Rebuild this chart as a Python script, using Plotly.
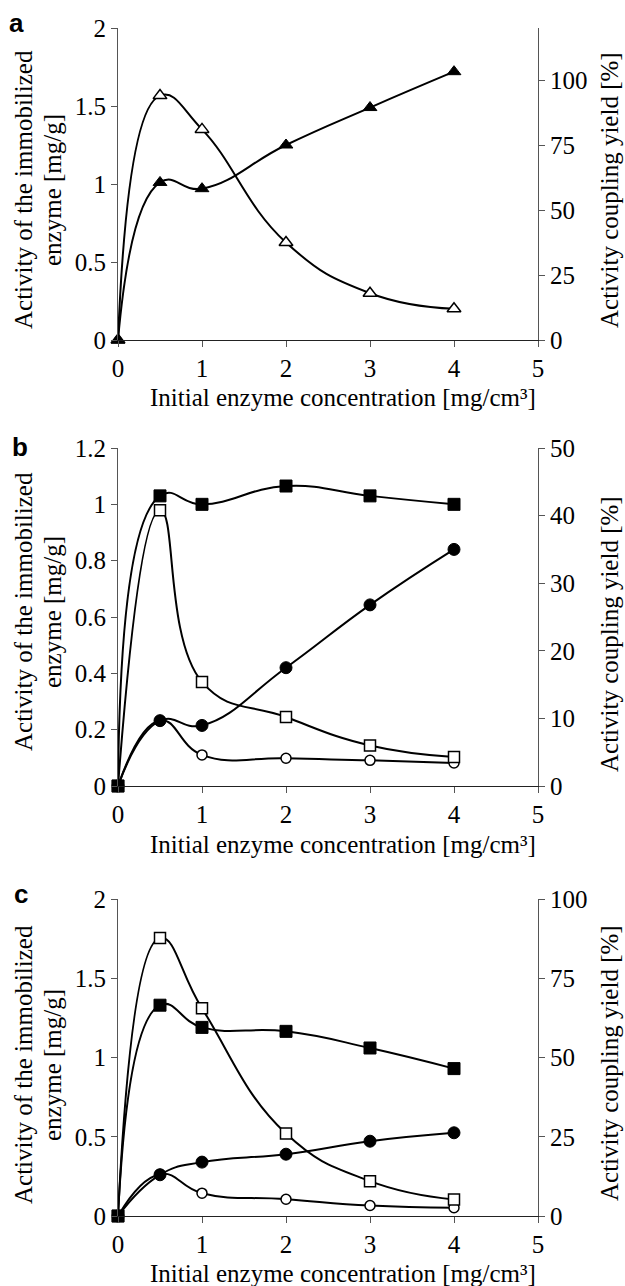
import plotly.graph_objects as go

# ---------------- data ----------------
conc = [0, 0.5, 1, 2, 3, 4]

# panel a
a_activity = [0, 1.01, 0.97, 1.25, 1.49, 1.72]        # filled triangles, left axis [mg/g]
a_yield = [0, 94, 81, 37.5, 18, 12]                    # open triangles, right axis [%]

# panel b
b_act_sq = [0, 1.03, 1.0, 1.065, 1.03, 1.0]            # filled squares, left
b_act_ci = [0, 0.232, 0.215, 0.42, 0.643, 0.84]        # filled circles, left
b_yld_sq = [0, 40.8, 15.4, 10.2, 6.0, 4.3]             # open squares, right
b_yld_ci = [0, 9.7, 4.6, 4.1, 3.8, 3.4]                # open circles, right

# panel c
c_act_sq = [0, 1.33, 1.19, 1.165, 1.06, 0.93]
c_act_ci = [0, 0.26, 0.34, 0.39, 0.472, 0.525]
c_yld_sq = [0, 87.7, 65.5, 26, 11, 5.2]
c_yld_ci = [0, 13.2, 7.2, 5.3, 3.3, 2.6]

x_ticks = [0, 1, 2, 3, 4, 5]
a_left_ticks = [0, 0.5, 1, 1.5, 2]
a_left_text = ["0", "0.5", "1", "1.5", "2"]
a_right_ticks = [0, 25, 50, 75, 100]
b_left_ticks = [0, 0.2, 0.4, 0.6, 0.8, 1.0, 1.2]
b_left_text = ["0", "0.2", "0.4", "0.6", "0.8", "1", "1.2"]
b_right_ticks = [0, 10, 20, 30, 40, 50]
c_left_ticks = [0, 0.5, 1, 1.5, 2]
c_left_text = ["0", "0.5", "1", "1.5", "2"]
c_right_ticks = [0, 25, 50, 75, 100]

x_title = "Initial enzyme concentration [mg/cm³]"
left_title_1 = "Activity of the immobilized"
left_title_2 = "enzyme [mg/g]"
right_title = "Activity coupling yield [%]"
panel_labels = ["a", "b", "c"]

# ---------------- geometry (pixels) ----------------
W, H = 625, 1286
L, R, T, B = 118, 538, 28, 1216
PW, PH = R - L, B - T


def px_x(px):
    return (px - L) / PW


def px_y(py):
    return (B - py) / PH


panels = [  # (top px, bottom px)
    (28, 340),
    (448, 786),
    (899, 1216),
]

SERIF = "Liberation Serif"
FS = 25

fig = go.Figure()


def add(x, y, xa, ya, symbol, size, filled):
    fig.add_trace(go.Scatter(
        x=x, y=y, xaxis=xa, yaxis=ya, mode="lines+markers",
        line=dict(color="black", width=2, shape="spline", smoothing=1.3),
        marker=dict(symbol=symbol, size=size,
                    color="black" if filled else "white",
                    line=dict(color="black", width=1 if filled else 1.5)),
        cliponaxis=False, showlegend=False, hoverinfo="skip"))


# panel a: base y = right axis (y), overlay left (y2)
add(conc, a_yield, "x", "y", "triangle-up", 12, False)
add(conc, a_activity, "x", "y2", "triangle-up", 12, True)
# panel b: y3 right base, y4 left overlay
add(conc, b_yld_ci, "x2", "y3", "circle", 10, False)
add(conc, b_yld_sq, "x2", "y3", "square", 11, False)
add(conc, b_act_ci, "x2", "y4", "circle", 12, True)
add(conc, b_act_sq, "x2", "y4", "square", 12, True)
# panel c: y5 right base, y6 left overlay
add(conc, c_yld_ci, "x3", "y5", "circle", 10, False)
add(conc, c_yld_sq, "x3", "y5", "square", 11, False)
add(conc, c_act_ci, "x3", "y6", "circle", 12, True)
add(conc, c_act_sq, "x3", "y6", "square", 12, True)

axis_common = dict(showline=True, linecolor="#555", linewidth=1, ticks="outside",
                   ticklen=6, tickcolor="#555", tickwidth=1, showgrid=False,
                   zeroline=False, tickfont=dict(family=SERIF, size=FS, color="black"))

layout = dict(
    width=W, height=H, paper_bgcolor="white", plot_bgcolor="white",
    margin=dict(l=L, r=W - R, t=T, b=H - B, pad=0),
    showlegend=False,
)

right_specs = [((0, 120), a_right_ticks), ((0, 50), b_right_ticks), ((0, 100), c_right_ticks)]
left_specs = [((0, 2), a_left_ticks, a_left_text), ((0, 1.2), b_left_ticks, b_left_text),
              ((0, 2), c_left_ticks, c_left_text)]

for i, (top, bot) in enumerate(panels):
    dom = [px_y(bot), px_y(top)]
    xname = "xaxis" if i == 0 else f"xaxis{i + 1}"
    base_idx = 2 * i + 1
    over_idx = 2 * i + 2
    base_name = "yaxis" if base_idx == 1 else f"yaxis{base_idx}"
    over_name = f"yaxis{over_idx}"
    base_ref = "y" if base_idx == 1 else f"y{base_idx}"
    xref = "x" if i == 0 else f"x{i + 1}"
    layout[xname] = dict(axis_common, domain=[0, 1], range=[0, 5], tickvals=x_ticks,
                         anchor=base_ref, linecolor="#222", linewidth=1.3)
    layout[base_name] = dict(axis_common, domain=dom, range=list(right_specs[i][0]),
                             tickvals=right_specs[i][1], side="right", anchor=xref)
    layout[over_name] = dict(axis_common, range=list(left_specs[i][0]),
                             tickvals=left_specs[i][1], ticktext=left_specs[i][2],
                             side="left", overlaying=base_ref, anchor=xref)

fig.update_layout(**layout)

# annotations
left_centers = [190, 612, 1065]
right_centers = [190, 634, 1063]
xtitle_centers = [398, 844, 1273]
letter_pos = [(16, 23), (20, 447), (21, 894)]
ann = []
for i in range(3):
    ann.append(dict(x=px_x(23), y=px_y(left_centers[i]), xref="paper", yref="paper",
                    text=left_title_1, textangle=-90, showarrow=False,
                    xanchor="center", yanchor="middle",
                    font=dict(family=SERIF, size=FS, color="black")))
    ann.append(dict(x=px_x(52), y=px_y(left_centers[i]), xref="paper", yref="paper",
                    text=left_title_2, textangle=-90, showarrow=False,
                    xanchor="center", yanchor="middle",
                    font=dict(family=SERIF, size=FS, color="black")))
    ann.append(dict(x=px_x(609), y=px_y(right_centers[i]), xref="paper", yref="paper",
                    text=right_title, textangle=-90, showarrow=False,
                    xanchor="center", yanchor="middle",
                    font=dict(family=SERIF, size=FS, color="black")))
    ann.append(dict(x=px_x(343), y=px_y(xtitle_centers[i]), xref="paper", yref="paper",
                    text=x_title, showarrow=False, xanchor="center", yanchor="middle",
                    font=dict(family=SERIF, size=FS, color="black")))
    lx, ly = letter_pos[i]
    ann.append(dict(x=px_x(lx), y=px_y(ly), xref="paper", yref="paper",
                    text=f"<b>{panel_labels[i]}</b>", showarrow=False,
                    xanchor="center", yanchor="middle",
                    font=dict(family="Liberation Sans", size=26, color="black")))
fig.update_layout(annotations=ann)

fig.write_html("out.html")
